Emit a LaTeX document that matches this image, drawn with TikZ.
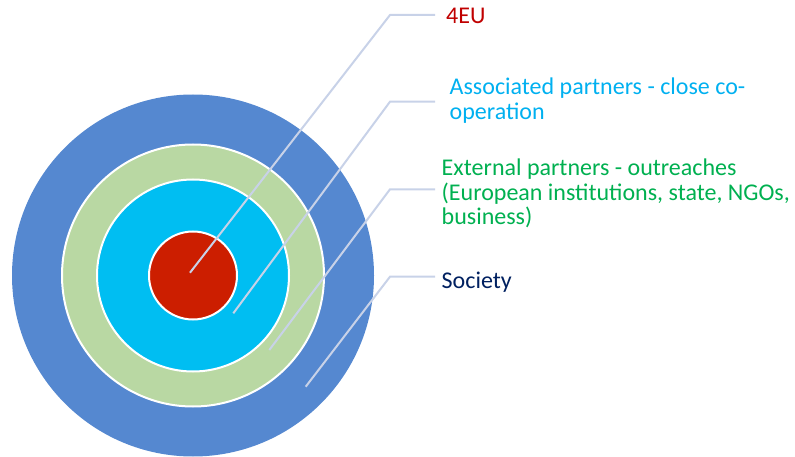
\documentclass[tikz,border=0pt]{standalone}
\usepackage{fontspec}
\setmainfont{Carlito}
\begin{document}
\begin{tikzpicture}[x=1pt,y=-1pt]
\definecolor{ringblue}{HTML}{5588D0}
\definecolor{ringgreen}{HTML}{B9D8A3}
\definecolor{ringcyan}{HTML}{00BEF2}
\definecolor{ringred}{HTML}{CC1E00}
\definecolor{leadc}{HTML}{C8D2E8}
\definecolor{txtred}{HTML}{C00000}
\definecolor{txtcyan}{HTML}{00B0F0}
\definecolor{txtgreen}{HTML}{00B050}
\definecolor{txtnavy}{HTML}{002060}
\tikzset{
  ring/.style={circle, inner sep=0pt, minimum size=#1},
  leader/.style={draw=leadc, line width=2pt},
  lbl/.style={anchor=base west, inner sep=0pt, align=left, font=\fontsize{24}{24.5}\selectfont}
}
\useasboundingbox (0,0) rectangle (795,457);
\node[ring=362pt, fill=ringblue] (soc) at (193,275.5) {};
\node[ring=262pt, fill=ringgreen, draw=white, line width=2pt] (ext) at (193,275.5) {};
\node[ring=192pt, fill=ringcyan, draw=white, line width=2pt] (ass) at (193,275.5) {};
\node[ring=88pt, fill=ringred, draw=white, line width=2pt] (core) at (193,275.5) {};
% leader anchor points
\coordinate (p1) at (190,272.7);
\coordinate (c1) at (390,15);
\coordinate (e1) at (435,15);
\coordinate (p2) at (233.3,313.3);
\coordinate (c2) at (390,101.7);
\coordinate (e2) at (435,101.7);
\coordinate (p3) at (269.3,350);
\coordinate (c3) at (390,189.3);
\coordinate (e3) at (435,189.3);
\coordinate (p4) at (305.7,386.7);
\coordinate (c4) at (390,276.7);
\coordinate (e4) at (435,276.7);
\draw[leader] (p1) -- (c1) -- (e1);
\draw[leader] (p2) -- (c2) -- (e2);
\draw[leader] (p3) -- (c3) -- (e3);
\draw[leader] (p4) -- (c4) -- (e4);
% labels (anchor = baseline of last line)
\node[lbl, text=txtred] (t1) at (446,24) {4EU};
\node[lbl, text=txtcyan] (t2) at (449.5,119.5) {Associated partners - close co-\\operation};
\node[lbl, text=txtgreen] (t3) at (441.5,225) {External partners - outreaches\\(European institutions, state, NGOs,\\business)};
\node[lbl, text=txtnavy] (t4) at (441.5,288.3) {Society};
\end{tikzpicture}
\end{document}
